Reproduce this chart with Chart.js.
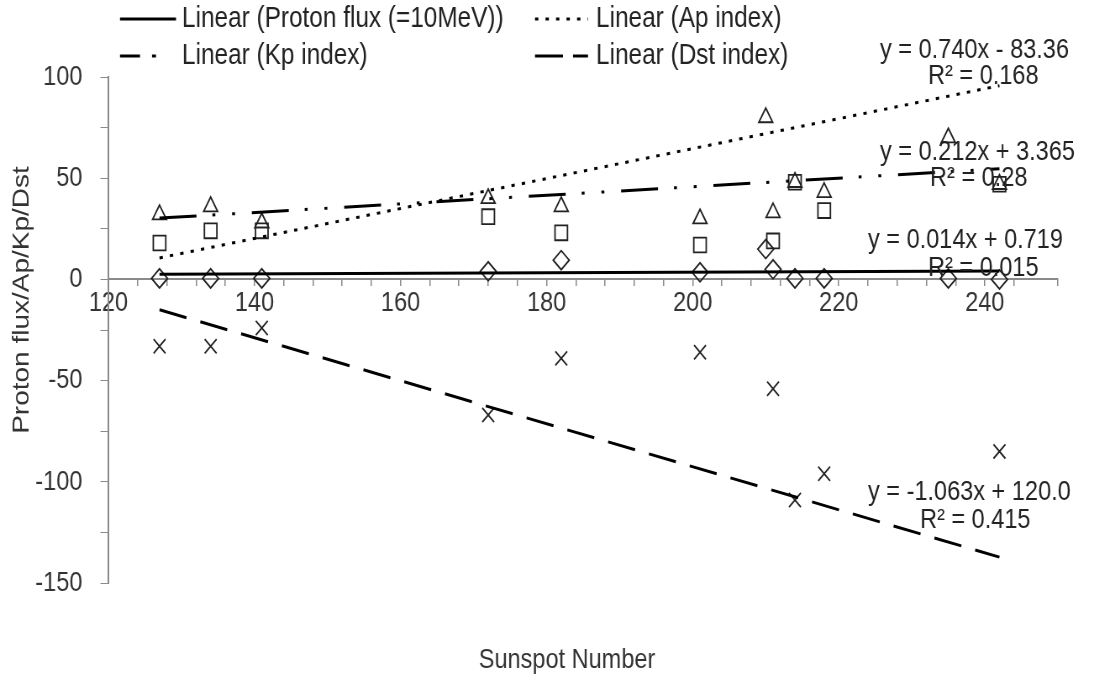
<!DOCTYPE html>
<html>
<head>
<meta charset="utf-8">
<script src="https://cdn.jsdelivr.net/npm/chart.js@4.4.0/dist/chart.umd.min.js"></script>
<style>
  html, body { margin: 0; padding: 0; background: #fff; }
  #wrap { width: 1094px; height: 675px; overflow: hidden; }
  #chart { transform-origin: 0 0; }
</style>
</head>
<body>
<div id="wrap"><canvas id="chart" width="1302" height="675"></canvas></div>
<script>
// sunspot number of each event
const sunspot = [127, 134, 141, 172, 182, 201, 210, 211, 214, 218, 235, 242];
// marker values (null = not visible)
const protonFlux = [0.5, 0.5, 0.5, 4, 9.5, 3.5, 15, 5, 0.5, 0.5, 0.5, 0];
const apIndex = [32, 36, 28, 40, 36, 30, 80, 33, 48, 43, 70, 47];
const kpIndex = [18, 24, 24, 31, 23, 17, null, 19, 48, 34, null, 47];
const dstIndex = [-33, -33, -24, -67, -39, -36, null, -54, -109, -96, null, -85];

// linear trend lines, ends read at the first and last sunspot number
const trendX = [127, 242];
const protonTrend = [2.5, 4.1];
const apTrend = [10.6, 95.7];
const kpTrend = [30.3, 54.7];
const dstTrend = [-15.0, -137.2];

const legendLabels = ['Linear (Proton flux (=10MeV))', 'Linear (Ap index)', 'Linear (Kp index)', 'Linear (Dst index)'];
const eqLabels = ['y = 0.740x - 83.36', 'y = 0.212x + 3.365', 'y = 0.014x + 0.719', 'y = -1.063x + 120.0'];
const r2Labels = ['R² = 0.168', 'R² = 0.28', 'R² = 0.015', 'R² = 0.415'];
const xTitle = 'Sunspot Number';
const yTitle = 'Proton flux/Ap/Kp/Dst';

// the original picture is squeezed sideways; draw wide, then squeeze the canvas
const CANVAS_W = 1302;
const S = 1094 / CANVAS_W;
const X = px => px / S;   // page x -> canvas x

const FONT = '"Liberation Sans", Arial, sans-serif';
const FSIZE = 28;
const INK = '#222';
const AXIS = '#8a8a8a';

const DASH_AP = [4, 8.5];
const DASH_KP = [44, 19, 3.5, 20, 3.5, 20];
const DASH_DST = [33, 17];

function pts(values) {
  return sunspot.map((x, i) => ({ x: x, y: values[i] })).filter(p => p.y !== null);
}
function trend(values) {
  return trendX.map((x, i) => ({ x: x, y: values[i] }));
}

function markerSet(label, values, style, radius) {
  return {
    label: label,
    data: pts(values),
    showLine: false,
    pointStyle: style,
    pointRadius: radius,
    pointHoverRadius: radius,
    pointBackgroundColor: 'rgba(0,0,0,0)',
    pointBorderColor: INK,
    pointBorderWidth: 1.8,
    clip: false
  };
}
function trendSet(label, values, dash) {
  return {
    label: label,
    data: trend(values),
    showLine: true,
    borderColor: '#000',
    borderWidth: 3,
    borderDash: dash,
    borderCapStyle: 'butt',
    pointRadius: 0,
    fill: false,
    clip: false
  };
}

// legend, trend equations and axis titles, placed as in the spreadsheet
const overlay = {
  id: 'overlay',
  afterDraw(chart) {
    const ctx = chart.ctx;
    ctx.save();
    ctx.fillStyle = INK;
    ctx.textBaseline = 'middle';
    ctx.textAlign = 'left';

    ctx.font = '29px ' + FONT;
    const items = [
      { x0: 120, x1: 176, y: 19, dash: [], tx: 182 },
      { x0: 535, x1: 588, y: 19, dash: DASH_AP, tx: 596 },
      { x0: 120, x1: 156, y: 56, dash: [X(20), X(12), X(4), 200], tx: 182 },
      { x0: 535, x1: 588, y: 56, dash: [X(28), X(10), X(15), 200], tx: 596 }
    ];
    items.forEach((it, i) => {
      ctx.beginPath();
      ctx.setLineDash(it.dash);
      ctx.lineWidth = 3;
      ctx.strokeStyle = '#000';
      ctx.moveTo(X(it.x0), it.y);
      ctx.lineTo(X(it.x1), it.y);
      ctx.stroke();
      ctx.setLineDash([]);
      ctx.fillText(legendLabels[i], X(it.tx), it.y);
    });

    ctx.font = FSIZE + 'px ' + FONT;
    const eqPos = [
      { x: 880, y: 50, rx: 928, ry: 76 },
      { x: 880, y: 152, rx: 930, ry: 178 },
      { x: 868, y: 240, rx: 928, ry: 268 },
      { x: 868, y: 492, rx: 920, ry: 520 }
    ];
    eqPos.forEach((p, i) => {
      ctx.fillText(eqLabels[i], X(p.x), p.y);
      ctx.fillText(r2Labels[i], X(p.rx), p.ry);
    });

    ctx.fillStyle = '#333';
    ctx.textAlign = 'center';
    ctx.fillText(xTitle, X(567), 660);
    ctx.translate(X(22), 300);
    ctx.rotate(-Math.PI / 2);
    ctx.fillText(yTitle, 0, 0);
    ctx.restore();
  }
};

const canvas = document.getElementById('chart');
canvas.style.transform = 'scaleX(' + S + ')';

new Chart(canvas, {
  type: 'scatter',
  data: {
    datasets: [
      trendSet(legendLabels[0], protonTrend, []),
      trendSet(legendLabels[1], apTrend, DASH_AP),
      trendSet(legendLabels[2], kpTrend, DASH_KP),
      trendSet(legendLabels[3], dstTrend, DASH_DST),
      markerSet('Proton flux (=10MeV)', protonFlux, 'rectRot', 9.5),
      markerSet('Ap index', apIndex, 'triangle', 9.5),
      markerSet('Kp index', kpIndex, 'rect', 10.5),
      markerSet('Dst index', dstIndex, 'crossRot', 10)
    ]
  },
  options: {
    responsive: false,
    animation: false,
    events: [],
    layout: { padding: { top: 77, right: Math.round(CANVAS_W - X(1058)), left: 0, bottom: 92 } },
    plugins: {
      legend: { display: false },
      tooltip: { enabled: false }
    },
    scales: {
      x: {
        type: 'linear',
        position: { y: 0 },
        min: 120,
        max: 250,
        grid: { drawOnChartArea: false, tickLength: 6, color: AXIS, lineWidth: 1.5 },
        border: { color: AXIS, width: 2 },
        ticks: {
          stepSize: 4,
          autoSkip: false,
          maxRotation: 0,
          padding: 1,
          color: '#333',
          font: { family: FONT, size: FSIZE },
          callback: v => (v % 20 === 0 ? String(v) : '')
        }
      },
      y: {
        type: 'linear',
        min: -150,
        max: 100,
        grid: { drawOnChartArea: false, tickLength: X(8), color: AXIS, lineWidth: 1 },
        border: { color: AXIS, width: 2 },
        ticks: {
          stepSize: 25,
          autoSkip: false,
          padding: X(18),
          color: '#333',
          font: { family: FONT, size: FSIZE },
          callback: v => (v % 50 === 0 ? String(v) : '')
        },
        afterFit: s => { s.width = Math.round(X(108)); }
      }
    }
  },
  plugins: [overlay]
});
</script>
</body>
</html>
